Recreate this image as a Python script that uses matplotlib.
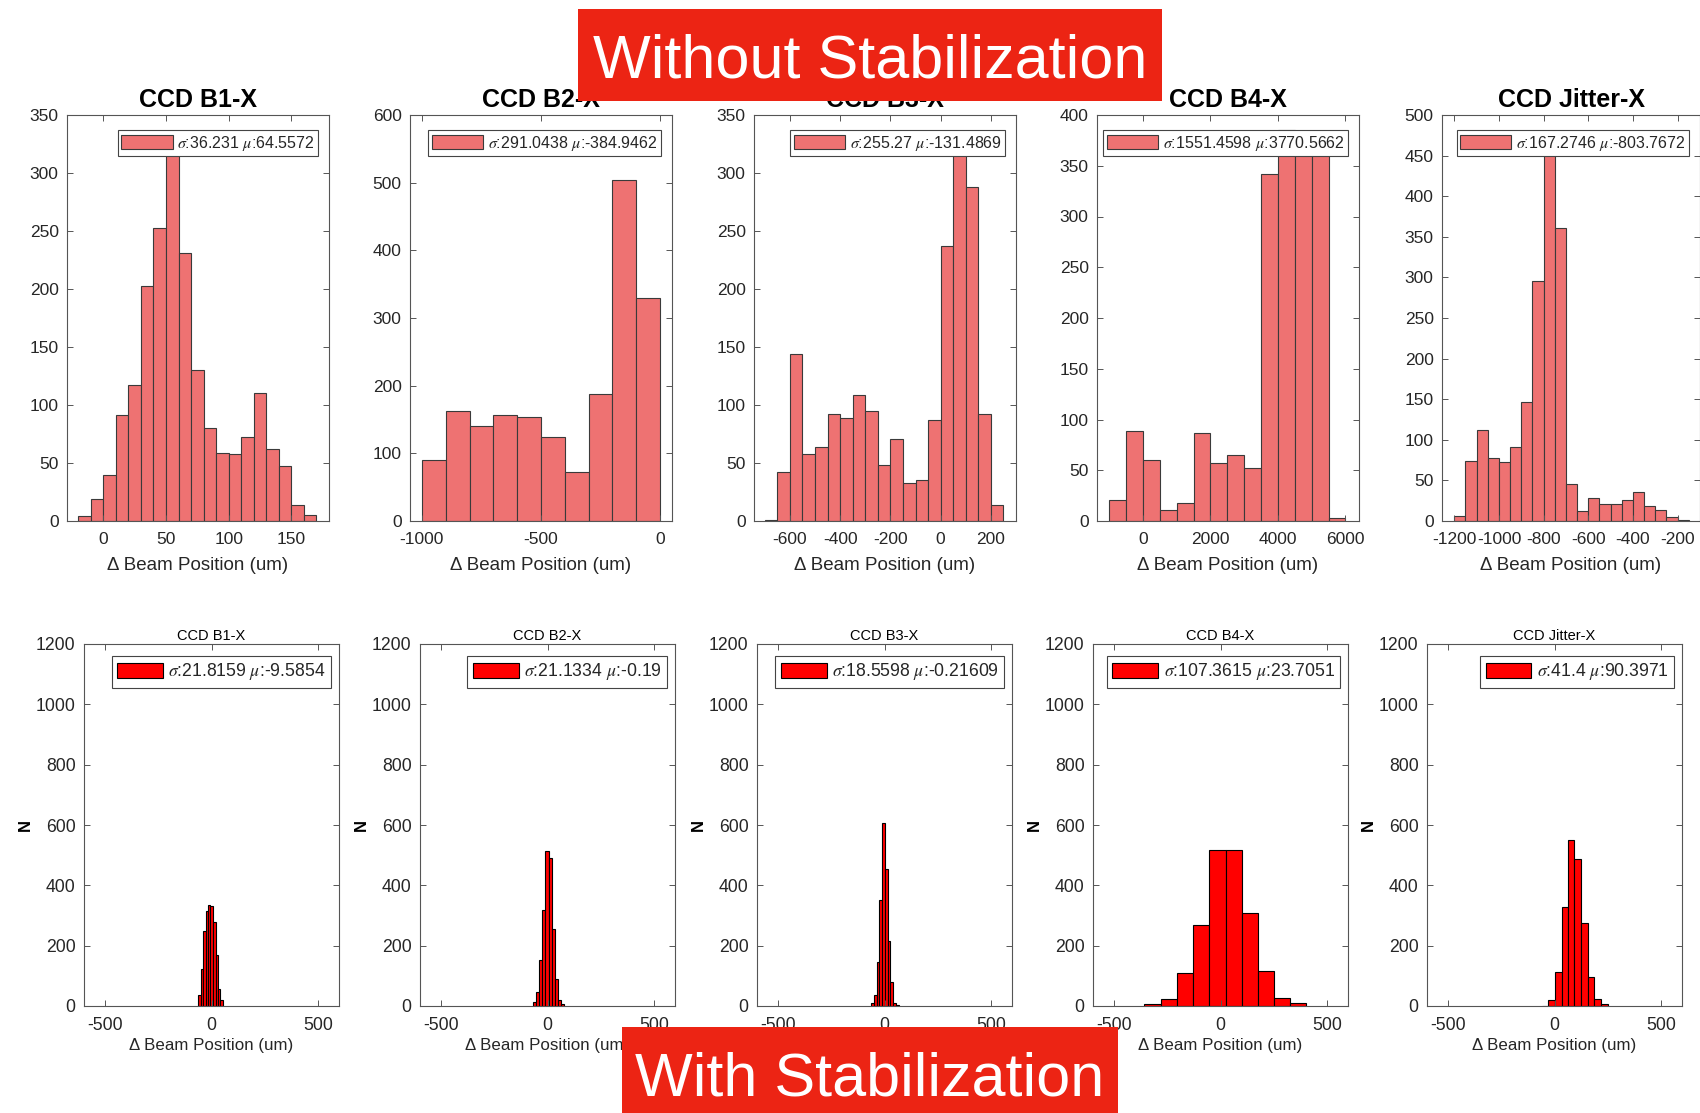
import numpy as np
import matplotlib.pyplot as plt
from matplotlib.patches import Rectangle

plt.rcParams['font.family'] = ['Liberation Sans', 'DejaVu Sans']
plt.rcParams['mathtext.fontset'] = 'stix'
plt.rcParams['axes.unicode_minus'] = False

names = ['CCD B1-X', 'CCD B2-X', 'CCD B3-X', 'CCD B4-X', 'CCD Jitter-X']

# --- without stabilization (top row) ---
raw_b1_edges = [-20, -10, 0, 10, 20, 30, 40, 50, 60, 70, 80, 90, 100, 110, 120, 130, 140, 150, 160, 170]
raw_b1_counts = [4, 19, 40, 91, 117, 203, 253, 325, 231, 130, 80, 59, 58, 72, 110, 62, 47, 14, 5]

raw_b2_edges = [-1000, -900, -800, -700, -600, -500, -400, -300, -200, -100, 0]
raw_b2_counts = [90, 163, 140, 157, 153, 124, 72, 188, 504, 330]

raw_b3_edges = [-700, -650, -600, -550, -500, -450, -400, -350, -300, -250, -200,
                -150, -100, -50, 0, 50, 100, 150, 200, 250]
raw_b3_counts = [1, 42, 144, 58, 64, 92, 89, 109, 95, 48, 71, 33, 35, 87, 237, 320, 288, 92, 14]

raw_b4_edges = [-1000, -500, 0, 500, 1000, 1500, 2000, 2500, 3000, 3500, 4000, 4500, 5000, 5500, 6000]
raw_b4_counts = [21, 89, 60, 11, 18, 87, 57, 65, 52, 342, 385, 372, 365, 3]

raw_jit_edges = [-1200, -1150, -1100, -1050, -1000, -950, -900, -850, -800, -750, -700,
                 -650, -600, -550, -500, -450, -400, -350, -300, -250, -200, -150]
raw_jit_counts = [6, 74, 112, 78, 73, 91, 147, 295, 456, 361, 45, 12, 28, 21, 21, 26, 36, 18, 14, 5, 1]

raw_sigma = ['36.231', '291.0438', '255.27', '1551.4598', '167.2746']
raw_mu = ['64.5572', '-384.9462', '-131.4869', '3770.5662', '-803.7672']

raw_xlims = [(-29, 180), (-1050, 50), (-743, 300), (-1360, 6400), (-1255, -100)]
raw_ylims = [350, 600, 350, 400, 500]
raw_xticks = [[0, 50, 100, 150], [-1000, -500, 0], [-600, -400, -200, 0, 200],
              [0, 2000, 4000, 6000], [-1200, -1000, -800, -600, -400, -200]]
raw_ysteps = [50, 100, 50, 50, 50]

# --- with stabilization (bottom row) ---
stab_b1_edges = [-63, -51, -40, -28, -16, -5, 7, 19, 31, 42, 54]
stab_b1_counts = [35, 122, 248, 315, 334, 332, 279, 168, 58, 19]

stab_b2_edges = [-69, -54, -39, -24, -10, 5, 20, 35, 50, 64, 79]
stab_b2_counts = [12, 47, 154, 318, 514, 492, 256, 89, 19, 7]

stab_b3_edges = [-63, -50, -37, -24, -11, 2, 15, 28, 41, 54, 67]
stab_b3_counts = [9, 38, 146, 351, 606, 453, 214, 80, 11, 3]

stab_b4_edges = [-358, -282, -205, -128, -52, 24, 99, 175, 251, 328, 404]
stab_b4_counts = [8, 24, 110, 267, 516, 517, 307, 116, 25, 9]

stab_jit_edges = [-60, -29, 2, 33, 63, 94, 125, 157, 188, 219, 250]
stab_jit_counts = [1, 21, 114, 328, 551, 487, 276, 95, 24, 7]

stab_sigma = ['21.8159', '21.1334', '18.5598', '107.3615', '41.4']
stab_mu = ['-9.5854', '-0.19', '-0.21609', '23.7051', '90.3971']

raw_data = [(raw_b1_edges, raw_b1_counts), (raw_b2_edges, raw_b2_counts), (raw_b3_edges, raw_b3_counts),
            (raw_b4_edges, raw_b4_counts), (raw_jit_edges, raw_jit_counts)]
stab_data = [(stab_b1_edges, stab_b1_counts), (stab_b2_edges, stab_b2_counts), (stab_b3_edges, stab_b3_counts),
             (stab_b4_edges, stab_b4_counts), (stab_jit_edges, stab_jit_counts)]

W, H = 1700, 1113
fig = plt.figure(figsize=(W / 100, H / 100), dpi=100)

tick_color = '#262626'
spine_color = '#555555'


def style_axes(ax, fs):
    for s in ax.spines.values():
        s.set_color(spine_color)
        s.set_linewidth(0.8)
    ax.tick_params(direction='in', top=True, right=True, length=4, width=0.7,
                   color=spine_color, labelcolor=tick_color, labelsize=fs)
    ax.tick_params(axis='x', pad=8)
    ax.tick_params(axis='y', pad=6)


def add_hist(ax, edges, counts, color, edge, label, leg_fs, hl, bp, anchor):
    edges = np.array(edges, dtype=float)
    ax.hist(edges[:-1], bins=edges, weights=counts, color=color, edgecolor=edge,
            linewidth=0.8, label=label)
    leg = ax.legend(loc='upper right', bbox_to_anchor=anchor, fontsize=leg_fs, fancybox=False,
                    framealpha=1, edgecolor='#444444', borderpad=bp, handletextpad=0.3,
                    handlelength=hl, handleheight=0.9, borderaxespad=0)
    leg.get_frame().set_linewidth(0.8)
    for t in leg.get_texts():
        t.set_color(tick_color)


# top row
top_lefts = [67, 410, 754, 1097, 1442]
for i in range(5):
    w = 262 if i < 4 else 258
    ax = fig.add_axes([top_lefts[i] / W, 1 - 521 / H, w / W, 406 / H])
    edges, counts = raw_data[i]
    label = r'$\sigma$:' + raw_sigma[i] + r' $\mu$:' + raw_mu[i]
    add_hist(ax, edges, counts, '#EE7272', '#3a3a3a', label, 11.5, 3.2, 0.22,
             (1 - 11 / w, 1 - 15 / 406))
    ax.set_xlim(*raw_xlims[i])
    ax.set_ylim(0, raw_ylims[i])
    ax.set_xticks(raw_xticks[i])
    ax.set_yticks(np.arange(0, raw_ylims[i] + 1, raw_ysteps[i]))
    style_axes(ax, 12.5)
    ax.set_title(names[i], fontsize=18, fontweight='bold', pad=6)
    ax.set_xlabel('Δ Beam Position (um)', fontsize=13.5, color=tick_color, labelpad=7)

# bottom row
bot_lefts = [84, 420, 757, 1093, 1427]
for i in range(5):
    ax = fig.add_axes([bot_lefts[i] / W, 1 - 1006 / H, 255 / W, 362 / H])
    edges, counts = stab_data[i]
    label = r'$\sigma$:' + stab_sigma[i] + r' $\mu$:' + stab_mu[i]
    add_hist(ax, edges, counts, '#FF0000', 'black', label, 12.7, 2.6, 0.3,
             (1 - 8 / 255, 1 - 12 / 362))
    ax.set_xlim(-600, 600)
    ax.set_ylim(0, 1200)
    ax.set_xticks([-500, 0, 500])
    ax.set_yticks(np.arange(0, 1201, 200))
    style_axes(ax, 12.7)
    ax.set_title(names[i], fontsize=10.5, pad=3)
    ax.set_xlabel('Δ Beam Position (um)', fontsize=12.2, color=tick_color, labelpad=3)
    ax.set_ylabel('N', fontsize=12, fontweight='bold', labelpad=2)

# red banners
banner = '#EC2414'
fig.patches.append(Rectangle((578 / W, 1 - 101 / H), 584 / W, 92 / H, transform=fig.transFigure,
                             facecolor=banner, edgecolor='none', zorder=10))
fig.text(870 / W, 1 - 62 / H, 'Without Stabilization', color='white', fontsize=44,
         ha='center', va='center', zorder=11)
fig.patches.append(Rectangle((622 / W, 0), 496 / W, 86 / H, transform=fig.transFigure,
                             facecolor=banner, edgecolor='none', zorder=10))
fig.text(870 / W, 1 - 1080 / H, 'With Stabilization', color='white', fontsize=44,
         ha='center', va='center', zorder=11)

fig.savefig('out.png', dpi=100)
